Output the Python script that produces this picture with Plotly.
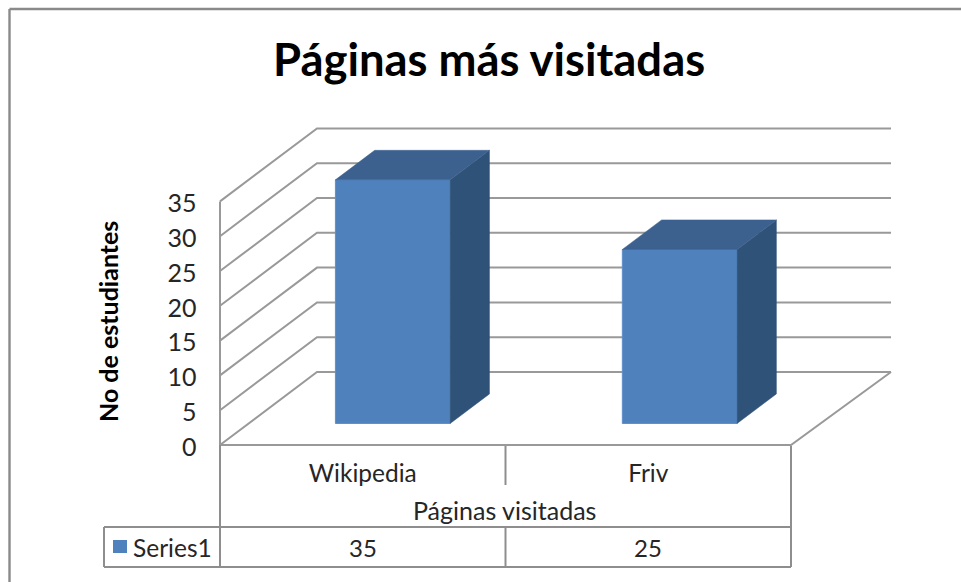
import plotly.graph_objects as go

# Data
categories = ["Wikipedia", "Friv"]
values = [35, 25]
y_ticks = [0, 5, 10, 15, 20, 25, 30, 35]
series_name = "Series1"
title_text = "Páginas más visitadas"
y_title = "No de estudiantes"
x_title = "Páginas visitadas"

# Page and axis calibration
W, H = 961, 582
X_LEFT_PX, CAT_PX = 220.0, 285.5
Y_ZERO_PX, UNIT_PX = 445.0, 6.96
DEPTH_X, DEPTH_Y = 97 / CAT_PX, 73 / UNIT_PX
BAR_W, D_FRONT, D_BACK = 0.402, 0.295, 0.70
X_NUDGE = 0.005
BAR_SPREAD = 1.005
BACK_EXTRA = 3 / CAT_PX

x_range = [-0.5 - X_LEFT_PX / CAT_PX, -0.5 + (W - X_LEFT_PX) / CAT_PX]
y_range = [(Y_ZERO_PX - H) / UNIT_PX, Y_ZERO_PX / UNIT_PX]
v_max = max(y_ticks)
GRID = "#999999"
TABLE = "#8e8e8e"
TXT = "#262626"
FONT = "Lato"


def proj(x, v, d):
    return x + d * DEPTH_X, v + d * DEPTH_Y


def poly(points, color):
    pts = [proj(*p) for p in points]
    pts.append(pts[0])
    return go.Scatter(x=[p[0] for p in pts], y=[p[1] for p in pts], mode="lines",
                      fill="toself", fillcolor=color, line=dict(color=color, width=0.5),
                      hoverinfo="skip", showlegend=False, xaxis="x2", yaxis="y2")


def polyline(points, width=2, color=GRID):
    pts = [proj(*p) for p in points]
    return go.Scatter(x=[p[0] for p in pts], y=[p[1] for p in pts], mode="lines",
                      line=dict(color=color, width=width), hoverinfo="skip", showlegend=False)


fig = go.Figure()
x0, x1 = -0.5, len(categories) - 0.5

# Walls and floor
for t in y_ticks:
    fig.add_trace(polyline([(x0, t, 0), (x0, t, 1), (x1 + BACK_EXTRA, t, 1)]))
fig.add_trace(polyline([(x0, 0, 0), (x0, v_max, 0)]))
fig.add_trace(polyline([(x0, 0, 0), (x1, 0, 0), (x1 + BACK_EXTRA, 0, 1)]))

# Bars: front face as bars, side and top as projected faces (overlay axes keep them above the grid)
centers = [i * BAR_SPREAD + X_NUDGE for i in range(len(categories))]
fig.add_trace(go.Bar(x=[c + D_FRONT * DEPTH_X for c in centers], y=values,
                     base=[D_FRONT * DEPTH_Y] * len(values), width=BAR_W,
                     marker=dict(color="#4F81BD", line=dict(color="#5F8FC8", width=1)),
                     showlegend=False, hoverinfo="skip", xaxis="x2", yaxis="y2"))
for c, v in zip(centers, values):
    l, r = c - BAR_W / 2, c + BAR_W / 2
    fig.add_trace(poly([(r, 0, D_FRONT), (r, 0, D_BACK), (r, v, D_BACK), (r, v, D_FRONT)], "#2F5278"))
    fig.add_trace(poly([(l, v, D_FRONT), (l, v, D_BACK), (r, v, D_BACK), (r, v, D_FRONT)], "#3C618F"))


def px(v):
    return v / W


def py(v):
    return 1 - v / H


shapes = []


def line(xa, ya, xb, yb, width=2, color=TABLE):
    shapes.append(dict(type="line", xref="paper", yref="paper", x0=px(xa), y0=py(ya), x1=px(xb), y1=py(yb),
                       line=dict(color=color, width=width)))


# Chart frame
line(9.5, 9, W, 9, 2.4, "#8a8a8a")
line(9.5, 9, 9.5, H, 2.4, "#8a8a8a")
# Data table
table_right = X_LEFT_PX + CAT_PX * len(categories)
line(X_LEFT_PX, 445, X_LEFT_PX, 567)
line(table_right, 446, table_right, 567)
line(X_LEFT_PX + CAT_PX, 446, X_LEFT_PX + CAT_PX, 485)
line(X_LEFT_PX + CAT_PX, 527, X_LEFT_PX + CAT_PX, 567)
line(104, 527, table_right, 527)
line(104, 567, table_right, 567)
line(104, 527, 104, 567)
# Legend key
shapes.append(dict(type="rect", xref="paper", yref="paper", x0=px(113), x1=px(127), y0=py(553), y1=py(540),
                   fillcolor="#4F81BD", line=dict(width=0)))

ann = [
    dict(text=title_text, x=px(489.5), y=py(59), font=dict(size=45.4, color="#000000", family=FONT, weight="bold")),
    dict(text=y_title, x=px(108), y=py(322), textangle=-90, font=dict(size=25, color="#000000", family=FONT, weight="bold")),
    dict(text=x_title, x=px(505), y=py(510), font=dict(size=25, color=TXT, family=FONT)),
    dict(text=series_name, x=px(172.5), y=py(547), font=dict(size=24.5, color=TXT, family=FONT)),
]
for i, v in enumerate(values):
    ann.append(dict(text=str(v), x=i, xref="x", y=py(547), font=dict(size=24, color=TXT, family=FONT)))
for a in ann:
    a.setdefault("xref", "paper")
    a.update(yref="paper", showarrow=False, xanchor="center", yanchor="middle")

fig.update_layout(
    width=W, height=H, margin=dict(l=0, r=0, t=0, b=0), autosize=False,
    paper_bgcolor="white", plot_bgcolor="white", showlegend=False,
    shapes=shapes, annotations=ann, font=dict(family=FONT, size=24, color=TXT),
    xaxis=dict(range=x_range, domain=[0, 1], anchor="free", position=py(456), showgrid=False, zeroline=False,
               showline=False, tickmode="array", tickvals=list(range(len(categories))), ticktext=categories,
               ticks="", tickfont=dict(size=24.5, color=TXT, family=FONT), fixedrange=True),
    yaxis=dict(range=y_range, domain=[0, 1], anchor="free", position=px(196.5), showgrid=False, zeroline=False,
               showline=False, tickmode="array", tickvals=y_ticks, ticks="", ticklabelshift=2,
               tickfont=dict(size=25, color=TXT, family=FONT), fixedrange=True),
    xaxis2=dict(range=x_range, domain=[0, 1], overlaying="x", visible=False, fixedrange=True),
    yaxis2=dict(range=y_range, domain=[0, 1], overlaying="y", visible=False, fixedrange=True),
)
fig.write_html("out.html", config=dict(displayModeBar=False),
               post_script="document.body.style.margin='0';document.body.style.overflow='hidden';")
